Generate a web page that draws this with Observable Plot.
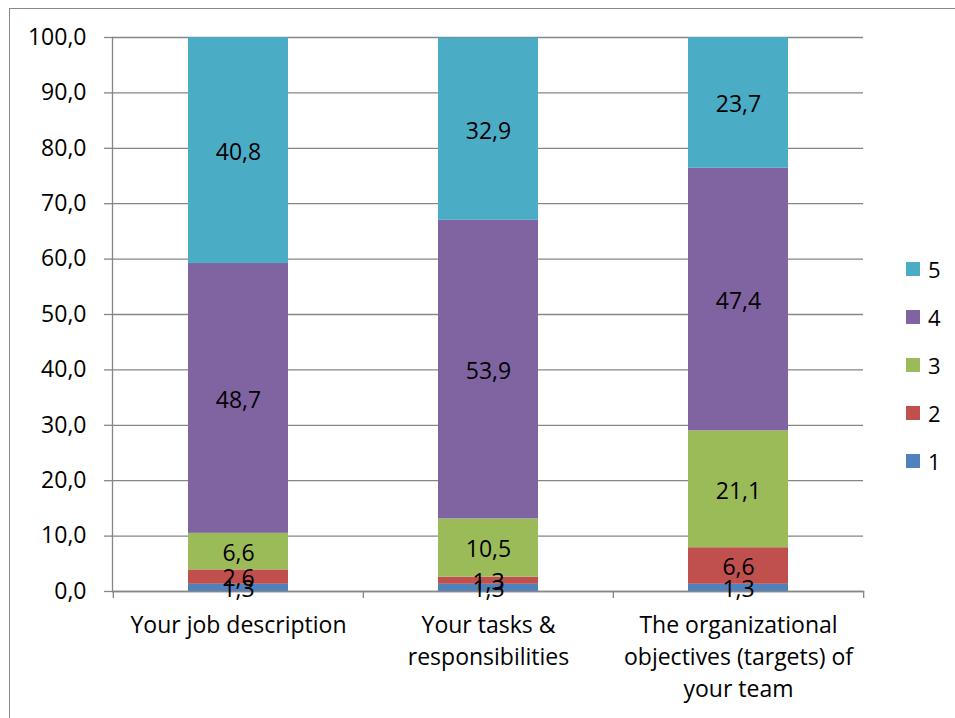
<!DOCTYPE html>
<html>
<head>
<meta charset="utf-8">
<script src="https://cdn.jsdelivr.net/npm/d3@7"></script>
<script src="https://cdn.jsdelivr.net/npm/@observablehq/plot@0.6"></script>
<style>
  html, body { margin: 0; padding: 0; background: #fff; }
  #chart { position: relative; width: 955px; height: 718px; overflow: hidden; font-family: "Open Sans", sans-serif; color: #000; }
  #chart svg { position: absolute; left: 0; top: 0; }
  #border { position: absolute; left: 9px; top: 8px; width: 1200px; height: 1200px; border-left: 1.5px solid #8a8a8a; border-top: 1.5px solid #8a8a8a; }
  #legend { position: absolute; left: 906px; top: 245px; }
  .item { height: 48px; display: flex; align-items: center; font-size: 22px; }
  .swatch { width: 14px; height: 14px; margin-right: 8px; }
</style>
</head>
<body>
<div id="chart">
  <div id="border"></div>
</div>
<script>
// Survey answers (share of respondents, %) per rating 1..5
const categories = ["Your job description", "Your tasks & responsibilities", "The organizational objectives (targets) of your team"];
const categoryLabels = ["Your job description", "Your tasks &\nresponsibilities", "The organizational\nobjectives (targets) of\nyour team"];
const series = ["1", "2", "3", "4", "5"];
const rating1 = [1.3, 1.3, 1.3];
const rating2 = [2.6, 1.3, 6.6];
const rating3 = [6.6, 10.5, 21.1];
const rating4 = [48.7, 53.9, 47.4];
const rating5 = [40.8, 32.9, 23.7];
const colors = ["#4F81BD", "#C0504D", "#9BBB59", "#8064A2", "#4BACC6"];
const yTicks = [0, 10, 20, 30, 40, 50, 60, 70, 80, 90, 100];

const valuesBySeries = [rating1, rating2, rating3, rating4, rating5];
const data = [];
series.forEach((s, si) => {
  categories.forEach((c, ci) => {
    data.push({category: c, series: s, value: valuesBySeries[si][ci]});
  });
});

const width = 955, height = 718;
const marginLeft = 112, marginRight = 92, marginTop = 37, marginBottom = 127;
const step = (width - marginLeft - marginRight) / categories.length;
const fmt = d => d.toFixed(1).replace(".", ",");
const gray = "#868686";
const font = '"Open Sans", sans-serif';
const fs = 23;

const chart = Plot.plot({
  width, height, marginLeft, marginRight, marginTop, marginBottom,
  style: {fontFamily: font, fontSize: fs + "px", color: "#000", background: "transparent", overflow: "visible"},
  x: {domain: categories, paddingInner: 0.6, paddingOuter: 0.3, axis: null, label: null},
  y: {domain: [0, 100], axis: null, label: null},
  color: {domain: series, range: colors},
  marks: [
    Plot.gridY(yTicks, {stroke: gray, strokeOpacity: 1, strokeWidth: 1.3}),
    Plot.barY(data, Plot.stackY({x: "category", y: "value", fill: "series", clip: true})),
    Plot.frame({anchor: "left", stroke: gray, strokeWidth: 1.3}),
    Plot.frame({anchor: "bottom", stroke: gray, strokeWidth: 1.3}),
    Plot.axisY(yTicks, {label: null, tickSize: 8, tickPadding: 18, tickFormat: fmt, stroke: gray, strokeWidth: 1.3, fontSize: fs, fill: "#000"}),
    // category boundary ticks on the bottom axis
    Plot.axisX(categories, {label: null, tickSize: 7, dx: -step / 2, text: null, stroke: gray, strokeWidth: 1.3}),
    Plot.axisX(categories.slice(-1), {label: null, tickSize: 7, dx: step / 2, text: null, stroke: gray, strokeWidth: 1.3}),
    Plot.text(categories, {x: d => d, text: (d, i) => categoryLabels[i], frameAnchor: "bottom", lineAnchor: "top", dy: 19, fontSize: fs, lineHeight: 1.39, fill: "#000"}),
    Plot.text(data, Plot.stackY({x: "category", y: "value", z: "series", text: d => fmt(d.value), dy: 2, fontSize: fs, fill: "#000"}))
  ]
});

const root = document.getElementById("chart");
root.appendChild(chart);

// legend, highest rating first
const legend = document.createElement("div");
legend.id = "legend";
series.slice().reverse().forEach(s => {
  const item = document.createElement("div");
  item.className = "item";
  const sw = document.createElement("div");
  sw.className = "swatch";
  sw.style.background = colors[series.indexOf(s)];
  const label = document.createElement("span");
  label.textContent = s;
  item.appendChild(sw);
  item.appendChild(label);
  legend.appendChild(item);
});
root.appendChild(legend);
</script>
</body>
</html>
